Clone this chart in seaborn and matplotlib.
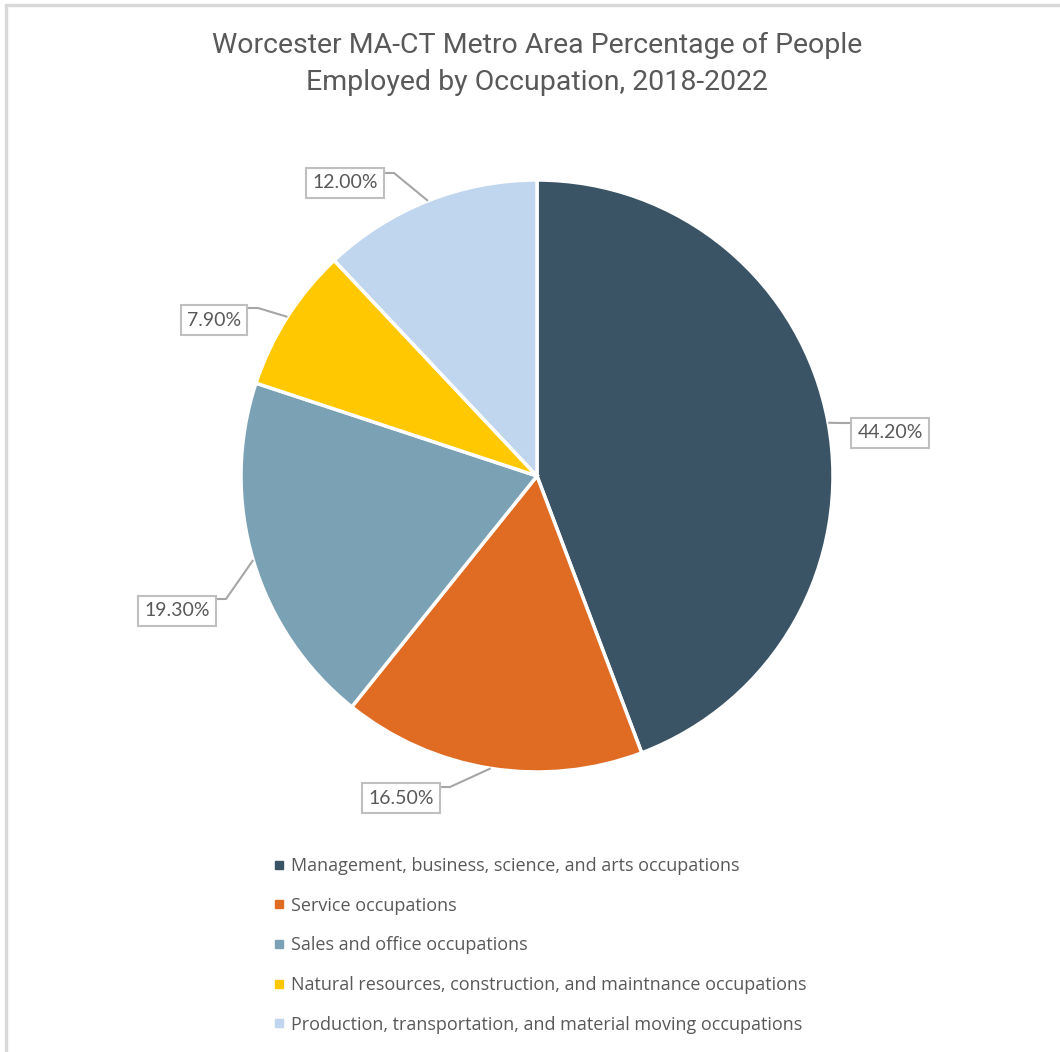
import numpy as np
import matplotlib
matplotlib.use("Agg")
import matplotlib.pyplot as plt
from matplotlib.lines import Line2D
import seaborn as sns

# ---- data ----
categories = [
    "Management, business, science, and arts occupations",
    "Service occupations",
    "Sales and office occupations",
    "Natural resources, construction, and maintnance occupations",
    "Production, transportation, and material moving occupations",
]
values = [44.2, 16.5, 19.3, 7.9, 12.0]
value_labels = ["44.20%", "16.50%", "19.30%", "7.90%", "12.00%"]
colors = ["#3A5466", "#E06C24", "#7BA1B5", "#FFC800", "#C0D6EF"]
title = "Worcester MA-CT Metro Area Percentage of People\nEmployed by Occupation, 2018-2022"

sns.set_theme(style="white")
plt.rcParams["font.family"] = ["Lato", "DejaVu Sans"]

W, H = 1060, 1052
fig = plt.figure(figsize=(W / 100, H / 100), dpi=100)
ax = fig.add_axes([0, 0, 1, 1])

def Y(py):
    return H - py

cx, cy, R = 537, Y(476), 296
wedges, _ = ax.pie(values, colors=colors, startangle=90, counterclock=False,
                   center=(cx, cy), radius=R,
                   wedgeprops=dict(edgecolor="white", linewidth=2.5))
ax.set_xlim(0, W)
ax.set_ylim(0, H)
ax.set_aspect("auto")
ax.axis("off")

# label box layout (pixel coords): center x, center y, attach y, side, half width
layout = [
    (890, 433, 423, -1, 40),
    (401, 798, 787, +1, 40),
    (177, 611, 599, +1, 40),
    (214, 320, 308, +1, 35),
    (345, 183, 173, +1, 40),
]
total = sum(values)
start = 90.0
for val, lab, (bx, by, ay, side, hw) in zip(values, value_labels, layout):
    mid = start - val / total * 360 / 2
    start -= val / total * 360
    t = np.deg2rad(mid)
    px, py = cx + R * np.cos(t), cy + R * np.sin(t)
    edge_x = bx + side * hw
    elbow_x = edge_x + side * 9
    ax.plot([px, elbow_x, bx], [py, Y(ay), Y(ay)], color="#A6A6A6", lw=1.5,
            zorder=3, solid_capstyle="butt")
    ax.text(bx, Y(by), lab, ha="center", va="center", fontsize=14,
            color="#595959", zorder=5,
            bbox=dict(boxstyle="square,pad=0.32", fc="white", ec="#BFBFBF", lw=1.5))

# title
fig.text(537 / W, 1 - 64 / H, title, ha="center", va="center", fontsize=20.5,
         color="#595959", linespacing=1.5,
         family=["Roboto", "DejaVu Sans"])

# legend
handles = [Line2D([0], [0], marker="s", linestyle="none", markersize=6,
                  markerfacecolor=c, markeredgecolor=c) for c in colors]
leg = fig.legend(handles, categories, loc="upper left",
                 bbox_to_anchor=(274 / W, 1 - 857 / H), frameon=False,
                 prop={"family": ["Open Sans", "DejaVu Sans"], "size": 13},
                 labelcolor="#595959", labelspacing=1.2,
                 handlelength=0.5, handletextpad=0.45, borderpad=0, borderaxespad=0)

# outer border (top and left visible)
fig.add_artist(Line2D([6 / W, 1], [1 - 5 / H, 1 - 5 / H], color="#D9D9D9", lw=2.5,
                      transform=fig.transFigure))
fig.add_artist(Line2D([6 / W, 6 / W], [0, 1 - 5 / H], color="#D9D9D9", lw=2.5,
                      transform=fig.transFigure))

fig.savefig("out.png", dpi=100, facecolor="white")
